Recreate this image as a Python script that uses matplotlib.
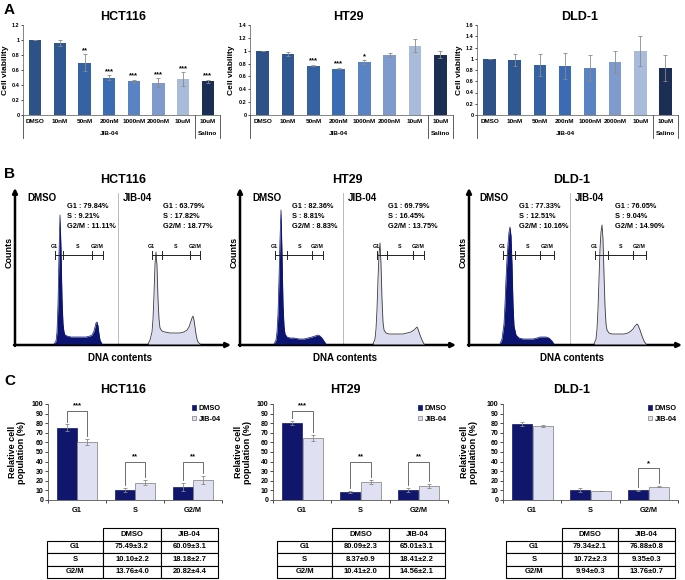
import numpy as np
import matplotlib
matplotlib.use('Agg')
import matplotlib.pyplot as plt
import matplotlib.transforms as mtransforms

plt.rcParams['font.family'] = ['Liberation Sans', 'DejaVu Sans']
plt.rcParams['font.weight'] = 'bold'
plt.rcParams['axes.labelweight'] = 'bold'

# ---------------- Panel A: cell viability ----------------
conc = ['DMSO', '10nM', '50nM', '200nM', '1000nM', '2000nM', '10uM', '10uM']
group_names = ['JIB-04', 'Salino']
bar_colors = ['#2c5288', '#2f5893', '#3462a3', '#3a6bb3', '#5a83c3',
              '#7f9bcd', '#a8bbdb', '#1b2f55']

hct_viab = [1.00, 0.96, 0.70, 0.50, 0.45, 0.43, 0.48, 0.45]
hct_err = [0.0, 0.04, 0.11, 0.03, 0.02, 0.06, 0.09, 0.02]
hct_star = ['', '', '**', '***', '***', '***', '***', '***']

ht_viab = [1.00, 0.95, 0.77, 0.72, 0.82, 0.93, 1.08, 0.94]
ht_err = [0.0, 0.03, 0.01, 0.01, 0.03, 0.03, 0.10, 0.05]
ht_star = ['', '', '***', '***', '*', '', '', '']

dld_viab = [1.00, 0.98, 0.89, 0.87, 0.83, 0.94, 1.14, 0.83]
dld_err = [0.0, 0.10, 0.19, 0.23, 0.23, 0.20, 0.27, 0.23]
dld_star = [''] * 8

# ---------------- Panel B: DNA content histograms ----------------
hct_dmso_ch = [36, 38, 39, 40, 41, 42, 43, 44, 45, 46, 47, 49, 53, 58, 63, 68, 72, 74, 76, 77, 78, 79, 80, 81, 82, 84]
hct_dmso_n = [0, 3, 12, 40, 90, 129, 95, 45, 20, 12, 9, 8, 7, 7, 7, 7, 8, 9, 13, 17, 21, 22, 18, 10, 4, 0]
hct_jib_ch = [30, 32, 34, 35, 36, 37, 38, 39, 40, 41, 42, 44, 47, 52, 57, 62, 66, 69, 71, 72, 73, 74, 75, 76, 77, 78, 79, 80, 82]
hct_jib_n = [0, 4, 12, 25, 50, 80, 92, 78, 45, 25, 16, 13, 12, 11, 11, 11, 12, 14, 17, 20, 23, 26, 28, 24, 17, 10, 5, 2, 0]

ht_dmso_ch = [31, 33, 34, 35, 36, 37, 38, 39, 40, 41, 42, 44, 47, 51, 56, 61, 65, 69, 72, 75, 77, 79, 81, 83]
ht_dmso_n = [0, 4, 12, 30, 65, 105, 134, 90, 40, 18, 10, 7, 6, 6, 5, 5, 6, 7, 8, 9, 8, 6, 3, 0]
ht_jib_ch = [30, 32, 33, 34, 35, 36, 37, 38, 39, 40, 41, 43, 46, 50, 55, 60, 64, 68, 71, 73, 74, 75, 77, 79, 81]
ht_jib_n = [0, 5, 15, 35, 65, 90, 101, 80, 45, 22, 14, 11, 10, 10, 10, 10, 11, 12, 14, 16, 17, 15, 9, 4, 0]

dld_dmso_ch = [30, 32, 34, 35, 36, 37, 38, 39, 40, 41, 42, 43, 44, 46, 49, 53, 58, 63, 67, 70, 73, 76, 79, 82, 84]
dld_dmso_n = [0, 5, 20, 40, 65, 85, 100, 112, 117, 108, 80, 40, 18, 9, 6, 5, 5, 5, 6, 7, 7, 7, 6, 3, 0]
dld_jib_ch = [24, 26, 27, 28, 29, 30, 31, 32, 33, 34, 35, 36, 37, 39, 42, 46, 50, 54, 58, 61, 63, 65, 67, 68, 70, 72, 74, 76]
dld_jib_n = [0, 5, 15, 35, 65, 95, 112, 119, 105, 70, 38, 20, 14, 11, 10, 10, 10, 10, 11, 13, 15, 18, 20, 19, 14, 8, 3, 0]

# gate boundaries (G1 start, G1 end / S start, S end / G2M start, G2M end)
hct_gates = ([37, 45, 74, 85], [34, 44, 72, 82])
ht_gates = ([32, 44, 69, 80], [34, 44, 70, 81])
dld_gates = ([33, 45, 70, 84], [25, 38, 63, 76])

hct_pct = ([79.84, 9.21, 11.11], [63.79, 17.82, 18.77])
ht_pct = ([82.36, 8.81, 8.83], [69.79, 16.45, 13.75])
dld_pct = ([77.33, 12.51, 10.16], [76.05, 9.04, 14.90])

# ---------------- Panel C: cell cycle distribution ----------------
phases = ['G1', 'S', 'G2/M']
hct_dmso = [75.49, 10.10, 13.76]
hct_dmso_sd = [3.2, 2.2, 4.0]
hct_jib = [60.09, 18.18, 20.82]
hct_jib_sd = [3.1, 2.7, 4.4]
hct_sig = ['***', '**', '**']

ht_dmso = [80.09, 8.37, 10.41]
ht_dmso_sd = [2.3, 0.9, 2.0]
ht_jib = [65.01, 18.41, 14.56]
ht_jib_sd = [3.1, 2.2, 2.1]
ht_sig = ['***', '**', '**']

dld_dmso = [79.34, 10.72, 9.94]
dld_dmso_sd = [2.1, 2.3, 0.3]
dld_jib = [76.88, 9.35, 13.76]
dld_jib_sd = [0.8, 0.3, 0.7]
dld_sig = ['', '', '*']

W, H = 685, 580
fig = plt.figure(figsize=(W / 100, H / 100), dpi=100)

# overlay in pixel coordinates for labels / arrows
ov = fig.add_axes([0, 0, 1, 1])
ov.set_xlim(0, W)
ov.set_ylim(H, 0)
ov.axis('off')


def px_axes(x0, y0, x1, y1):
    return fig.add_axes([x0 / W, 1 - y1 / H, (x1 - x0) / W, (y1 - y0) / H])


for letter, y in [('A', 10), ('B', 174), ('C', 381)]:
    ov.text(4, y, letter, fontsize=11, fontweight='bold', va='center', ha='left')


def viability(box, title, tx, ylx, vals, errs, stars, ymax):
    ax = px_axes(*box)
    x = np.arange(len(conc))
    ax.bar(x, vals, width=0.5, color=bar_colors, yerr=errs,
           error_kw=dict(ecolor='#8a8a8a', elinewidth=0.6, capsize=1.5, capthick=0.6))
    ax.set_xlim(-0.5, 7.5)
    ax.set_ylim(0, ymax)
    ticks = np.round(np.arange(0, ymax + 0.01, 0.2), 1)
    ax.set_yticks(ticks)
    ax.set_yticklabels([f'{t:g}' for t in ticks])
    ax.tick_params(axis='y', labelsize=4, length=1.5, width=0.5, pad=1)
    ax.set_xticks(x)
    ax.set_xticklabels(conc, fontsize=4.6)
    ax.tick_params(axis='x', length=0, pad=3)
    for s in ['top', 'right']:
        ax.spines[s].set_visible(False)
    for s in ['left', 'bottom']:
        ax.spines[s].set_linewidth(0.5)
        ax.spines[s].set_color('#555555')
    for xi, v, e, s in zip(x, vals, errs, stars):
        if s:
            ax.text(xi, v + e + ymax * 0.005, s, ha='center', va='bottom', fontsize=5.5)
    tr = mtransforms.blended_transform_factory(ax.transData, ax.transAxes)
    for b in (-0.5, 6.5, 7.5):
        ax.plot([b, b], [0, -0.25], transform=tr, clip_on=False, color='#444444', lw=0.6)
    ax.text(3, -0.205, group_names[0], transform=tr, ha='center', va='center', fontsize=4.6)
    ax.text(7, -0.205, group_names[1], transform=tr, ha='center', va='center', fontsize=4.6)
    ov.text(tx, 17, title, fontsize=9, ha='center', va='center')
    ov.text(ylx, (box[1] + box[3]) / 2, 'Cell viability', fontsize=6, rotation=90,
            ha='center', va='center')


viability((23, 25, 220, 115), 'HCT116', 123, 5.5, hct_viab, hct_err, hct_star, 1.2)
viability((250, 25, 453, 115), 'HT29', 348, 232, ht_viab, ht_err, ht_star, 1.4)
viability((477, 25, 678, 115), 'DLD-1', 580, 460, dld_viab, dld_err, dld_star, 1.6)


def histogram(box, ch, n, gates, pct, label, dark):
    ax = px_axes(*box)
    ax.patch.set_visible(False)
    if dark:
        ax.fill_between(ch, n, color='#0b1470', lw=0)
        ax.plot(ch, n, color='#0b1470', lw=0.5)
    else:
        ax.fill_between(ch, n, color='#dcdcf0', lw=0)
        ax.plot(ch, n, color='#3a3a3a', lw=0.6)
    ax.set_xlim(0, 100)
    ax.set_ylim(0, 149)
    ax.axis('off')
    gy = 89
    ax.plot([gates[0], gates[3]], [gy, gy], color='#222222', lw=0.7)
    for g in gates:
        ax.plot([g, g], [gy - 4, gy + 4], color='#222222', lw=0.7)
    ax.text(gates[0] - 1, gy + 6, 'G1', fontsize=3.8, ha='center', va='bottom')
    ax.text((gates[1] + gates[2]) / 2, gy + 6, 'S', fontsize=3.8, ha='center', va='bottom')
    ax.text((gates[2] + gates[3]) / 2, gy + 6, 'G2/M', fontsize=3.8, ha='center', va='bottom')
    names = ['G1', 'S', 'G2/M']
    tx = 49 if dark else 45
    for i, (nm, v) in enumerate(zip(names, pct)):
        ax.text(tx, 137 - 10 * i, f'{nm} : {v:.2f}%', fontsize=5.3, ha='left', va='center')
    ax.text(9 if dark else 5, 146, label, fontsize=7, ha='left', va='center')


def cycle_panel(x_axis, x_split, x_end, title, tx, data):
    (dch, dn, jch, jn), gates, pct = data
    ov.annotate('', xy=(x_axis, 188), xytext=(x_axis, 346),
                arrowprops=dict(arrowstyle='-|>', lw=1.8, color='black', mutation_scale=7,
                                shrinkA=0, shrinkB=0))
    ov.annotate('', xy=(x_end, 345), xytext=(x_axis - 1, 345),
                arrowprops=dict(arrowstyle='-|>', lw=1.8, color='black', mutation_scale=7,
                                shrinkA=0, shrinkB=0))
    ov.plot([x_split, x_split], [193, 344], color='#b0b0b0', lw=0.6)
    histogram((x_split - 100, 195, x_split, 344), dch, dn, gates[0], pct[0], 'DMSO', True)
    histogram((x_split, 195, x_split + 100, 344), jch, jn, gates[1], pct[1], 'JIB-04', False)
    ov.text(tx, 180, title, fontsize=9, ha='center', va='center')
    ov.text((x_axis + x_end) / 2 - 3, 358, 'DNA contents', fontsize=7, ha='center', va='center')
    ov.text(x_axis - 6, 252, 'Counts', fontsize=6.5, rotation=90, ha='center', va='center')


cycle_panel(15, 118, 231, 'HCT116', 123,
            ((hct_dmso_ch, hct_dmso_n, hct_jib_ch, hct_jib_n), hct_gates, hct_pct))
cycle_panel(240, 343, 456, 'HT29', 347,
            ((ht_dmso_ch, ht_dmso_n, ht_jib_ch, ht_jib_n), ht_gates, ht_pct))
cycle_panel(469, 570, 682, 'DLD-1', 572,
            ((dld_dmso_ch, dld_dmso_n, dld_jib_ch, dld_jib_n), dld_gates, dld_pct))


def distribution(box, tbox, title, tx, ylx, dm, dsd, jb, jsd, sig, levels):
    ax = px_axes(*box)
    x = np.arange(len(phases))
    w = 0.345
    ax.bar(x - 0.18, dm, width=w, color='#10166b', edgecolor='#10166b', lw=0.5,
           yerr=dsd, error_kw=dict(ecolor='#888888', elinewidth=0.6, capsize=1.2, capthick=0.6),
           label='DMSO')
    ax.bar(x + 0.18, jb, width=w, color='#dfe1f3', edgecolor='#7a7a7a', lw=0.5,
           yerr=jsd, error_kw=dict(ecolor='#888888', elinewidth=0.6, capsize=1.2, capthick=0.6),
           label='JIB-04')
    ax.set_xlim(-0.5, 2.5)
    ax.set_ylim(0, 100)
    ax.set_yticks(np.arange(0, 101, 10))
    ax.tick_params(axis='y', labelsize=5, length=2, width=0.5, pad=1.5)
    ax.set_xticks(x)
    ax.set_xticklabels(phases, fontsize=5.3)
    ax.set_xticks([-0.5, 0.5, 1.5, 2.5], minor=True)
    ax.tick_params(axis='x', which='major', length=0, pad=5)
    ax.tick_params(axis='x', which='minor', length=2, width=0.5)
    for s in ['top', 'right']:
        ax.spines[s].set_visible(False)
    for s in ['left', 'bottom']:
        ax.spines[s].set_linewidth(0.6)
        ax.spines[s].set_color('#555555')
    for i, s in enumerate(sig):
        if not s:
            continue
        top = levels[i]
        l0 = dm[i] + dsd[i] + 3
        l1 = jb[i] + jsd[i] + 3
        ax.plot([i - 0.18, i - 0.18, i + 0.18, i + 0.18], [l0, top, top, l1],
                color='#555555', lw=0.6)
        ax.text(i, top + 1.5, s, ha='center', va='bottom', fontsize=5.5)
    ax.legend(loc='upper right', bbox_to_anchor=(1.03, 1.06), frameon=False, fontsize=5.3,
              handlelength=0.6, handleheight=0.6, handletextpad=0.3, labelspacing=0.5)
    ov.text(tx, 390, title, fontsize=9, ha='center', va='center')
    ov.text(ylx, (box[1] + box[3]) / 2, 'Relative cell\npopulation (%)', fontsize=6.5,
            rotation=90, ha='center', va='center', linespacing=0.95)

    tax = px_axes(*tbox)
    tax.axis('off')
    cells = [['', 'DMSO', 'JIB-04']]
    for i, p in enumerate(phases):
        cells.append([p, f'{dm[i]:.2f}\u00b1{dsd[i]:.1f}', f'{jb[i]:.2f}\u00b1{jsd[i]:.1f}'])
    tb = tax.table(cellText=cells, cellLoc='center', bbox=[0, 0, 1, 1],
                   colWidths=[0.33, 0.335, 0.335])
    tb.auto_set_font_size(False)
    for (r, c), cell in tb.get_celld().items():
        cell.set_linewidth(0.8)
        cell.get_text().set_fontsize(5.5)
        cell.get_text().set_fontweight('bold')
        if r == 0 and c == 0:
            cell.visible_edges = 'open'


distribution((48, 404, 222, 500), (47, 528, 218, 578), 'HCT116', 123, 17,
             hct_dmso, hct_dmso_sd, hct_jib, hct_jib_sd, hct_sig, [93, 40, 40])
distribution((273, 404, 448, 500), (277, 528, 445, 578), 'HT29', 345, 243,
             ht_dmso, ht_dmso_sd, ht_jib, ht_jib_sd, ht_sig, [93, 40, 40])
distribution((503, 404, 678, 500), (506, 528, 675, 578), 'DLD-1', 572, 469,
             dld_dmso, dld_dmso_sd, dld_jib, dld_jib_sd, dld_sig, [40, 40, 33])

fig.savefig('out.png', dpi=100)
